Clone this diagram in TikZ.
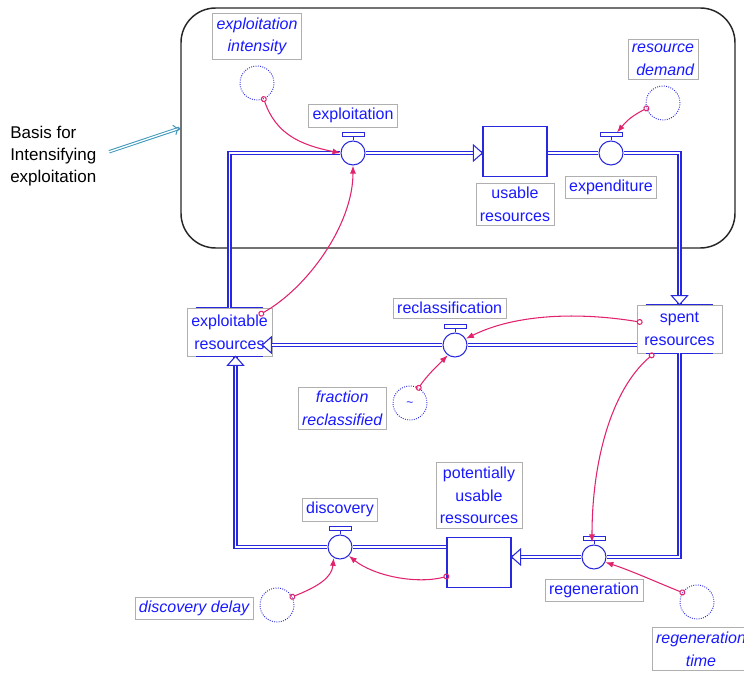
\documentclass[tikz,border=0pt]{standalone}
\usepackage{fontspec}
\setmainfont{Liberation Sans}
\usepackage{tikz}
\usetikzlibrary{arrows.meta,positioning,calc,decorations.markings}

\definecolor{pipeblue}{RGB}{40,40,220}
\definecolor{textblue}{RGB}{25,25,255}
\definecolor{linkred}{RGB}{225,35,110}
\definecolor{labelgray}{RGB}{175,175,175}
\definecolor{arrowteal}{RGB}{60,150,185}

\tikzset{
  namebox/.style={rectangle, draw=labelgray, line width=0.5pt, text=textblue, align=center,
    inner xsep=3pt, inner ysep=3pt, font=\fontsize{12}{17}\selectfont},
  auxname/.style={namebox, font=\fontsize{12}{17}\selectfont\itshape},
  levelbox/.style={namebox, minimum width=63.75pt, minimum height=36pt},
  stock/.style={rectangle, draw=pipeblue, line width=0.9pt, minimum width=48pt, minimum height=37pt},
  valve/.style={circle, draw=pipeblue, fill=white, line width=0.8pt, minimum size=18pt, inner sep=0pt},
  aux/.style={circle, draw=pipeblue, densely dotted, line width=0.7pt, minimum size=25.5pt, inner sep=0pt},
  pipe/.style={draw=pipeblue, line width=0.9pt, double=white, double distance=1.3pt},
  flowarrow/.style={postaction={decorate, decoration={markings,
    mark=at position 1 with {\draw[pipeblue, line width=0.8pt, fill=white] (0,0) -- (-9,8) -- (-9,-8) -- cycle;}}}},
  link/.style={draw=linkred, line width=0.8pt, shorten <=-2.25pt,
    {Circle[open, length=4.5pt, width=4.5pt]}-{Latex[length=6pt, width=4.5pt]}},
  frame/.style={rectangle, draw=black!85, line width=1.1pt, rounded corners=26pt,
    minimum width=415.5pt, minimum height=180pt}
}

\begin{document}
\begin{tikzpicture}[x=0.75pt, y=-0.75pt]
    \useasboundingbox (0,0) rectangle (744,673);

    % frame and note
    \node[frame] (frame) at (458,128) {};
    \node[anchor=west, align=left, inner sep=0pt, font=\fontsize{12.75}{16.5}\selectfont] (basis) at (10,156)
        {Basis for\\Intensifying\\exploitation};
    \draw[arrowteal, line width=0.75pt, double=white, double distance=1pt, shorten <=10pt, -{To[length=5pt, width=8pt]}]
        (basis.east) -- (frame.west);

    % stocks
    \node[stock] (usable) at (515,151.5) {};
    \node[stock] (potential) at (479,562.5) {};
    \node[levelbox] (exploitable) at (229.5,332) {exploitable\\resources};
    \node[levelbox] (spent) at (679.5,329) {spent\\resources};

    % valves
    \node[valve] (exploitation) at (353,153) {};
    \node[valve] (expenditure) at (611,153) {};
    \node[valve] (reclassification) at (455,345) {};
    \node[valve] (discovery) at (340,547) {};
    \node[valve] (regeneration) at (594,557) {};

    % auxiliaries
    \node[aux] (intensity) at (257,83) {};
    \node[aux] (demand) at (663,103) {};
    \node[aux] (fraction) at (410,403) {\raisebox{-5pt}{\small\color{textblue}\textasciitilde}};
    \node[aux] (delay) at (277,605) {};
    \node[aux] (regentime) at (697,602) {};

    % names
    \node[namebox, below=4.5pt of usable] (usablename) {usable\\resources};
    \node[namebox, above=6.75pt of potential] (potentialname) {potentially\\usable\\ressources};
    \node[namebox, above=9.75pt of exploitation] (exploitationname) {exploitation};
    \node[namebox, below=7.5pt of expenditure] (expenditurename) {expenditure};
    \node[namebox, above=10.5pt of reclassification, xshift=-4pt] (reclassificationname) {reclassification};
    \node[namebox, above=9.75pt of discovery] (discoveryname) {discovery};
    \node[namebox, below=6.75pt of regeneration] (regenerationname) {regeneration};
    \node[auxname, above=4.5pt of intensity] (intensityname) {exploitation\\intensity};
    \node[auxname, above=4.5pt of demand, align=right] (demandname) {resource\\demand};
    \node[auxname, left=4.5pt of fraction, yshift=-4pt] (fractionname) {fraction\\reclassified};
    \node[auxname, left=4.5pt of delay, yshift=-2.5pt] (delayname) {discovery delay};
    \node[auxname, below=6pt of regentime, xshift=3pt] (regentimename) {regeneration\\time};

    % blue edges of the two level boxes
    \foreach \s in {exploitable, spent} {
        \draw[pipeblue, line width=1pt] ($(\s.north west)+(9,0)$) -- ($(\s.north east)+(-9,0)$);
        \draw[pipeblue, line width=1pt] ($(\s.south west)+(9,0)$) -- ($(\s.south east)+(-9,0)$);
    }

    % pipes
    \draw[pipe] (exploitable.north) |- (exploitation.west);
    \draw[pipe, flowarrow] (exploitation.east) -- (exploitation.east -| usable.west);
    \draw[pipe] (usable.east |- expenditure) -- (expenditure.west);
    \draw[pipe, flowarrow] (expenditure.east) -| (spent.north);
    \draw[pipe] (spent.west |- reclassification) -- (reclassification.east);
    \draw[pipe, flowarrow] (reclassification.west) -- ($(reclassification.west -| exploitable.east)+(-10,0)$);
    \draw[pipe] (spent.south) |- (regeneration.east);
    \draw[pipe, flowarrow] (regeneration.west) -- (regeneration.west -| potential.east);
    \draw[pipe] (potential.west |- discovery) -- (discovery.east);
    \draw[pipe, flowarrow] (discovery.west) -| ($(exploitable.south)+(6,0)$);

    % valve handles
    \foreach \v in {exploitation, expenditure, reclassification, discovery, regeneration} {
        \draw[pipeblue, line width=0.7pt] (\v.north) -- ++(0,-4);
        \draw[pipeblue, line width=0.7pt, fill=white] ($(\v.north)+(-11,-4)$) rectangle ++(22,-4);
    }

    % links
    \draw[link] (intensity.-67) .. controls +(12,35) and +(-40,-8) .. (exploitation.west);
    \draw[link] ($(exploitable.north east)+(-11,6)$) .. controls +(45,-25) and +(0,60) .. (exploitation.south);
    \draw[link] (demand.198) .. controls +(-15,8) and +(10,-12) .. ($(expenditure.north)+(6,-8)$);
    \draw[link] ($(spent.west)+(3,-7)$) .. controls +(-60,-10) and +(50,-25) .. (reclassification.30);
    \draw[link] (fraction.60) .. controls +(8,-12) and +(-12,12) .. (reclassification.-125);
    \draw[link] ($(spent.south west)+(15,2)$) .. controls +(-41,35) and +(0,-80) .. ($(regeneration.north)+(-2,-2)$);
    \draw[link] (delay.28) .. controls +(25,-10) and +(-2,20) .. (discovery.-120);
    \draw[link] ($(potential.west)+(0,14)$) .. controls +(-30,8) and +(25,20) .. (discovery.-45);
    \draw[link] (regentime.147) .. controls +(-25,-10) and +(25,8) .. (regeneration.-25);
\end{tikzpicture}
\end{document}
